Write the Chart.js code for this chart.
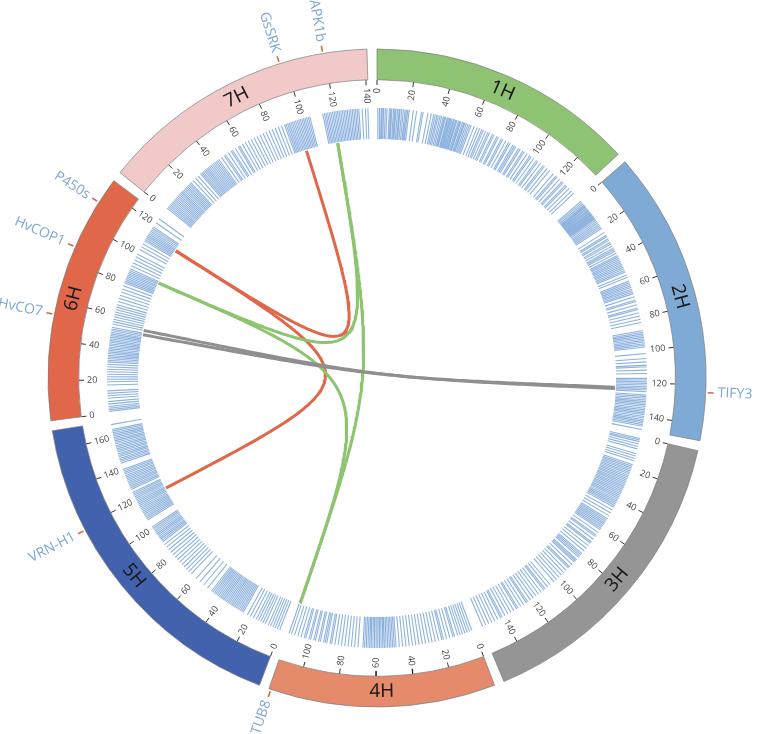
<!DOCTYPE html>
<html><head><meta charset="utf-8">
<script src="https://cdn.jsdelivr.net/npm/chart.js@4.4.1/dist/chart.umd.min.js"></script>
<style>
html,body{margin:0;padding:0;background:#fff;}
#wrap{position:relative;width:757px;height:734px;}
#wrap canvas{position:absolute;left:0;top:0;}
</style>
</head><body>
<div id="wrap"><canvas id="ring" width="757" height="734"></canvas><canvas id="tracks" width="757" height="734"></canvas></div>
<script>
// ---------------- data ----------------
const chromosomes = ['1H','2H','3H','4H','5H','6H','7H'];
const chromLengths = [134,148,155,114,170,126,141];           // cM
const chromColors = ['#8fc374','#7eaad5','#959595','#e58b6c','#4262ae','#e0674a','#f2c9c9'];
const tickStep = 20;

const geneNames = ['TIFY3','TUB8','VRN-H1','HvCO7','HvCOP1','P450s','GsSRK','APK1b'];
const geneChrom = ['2H','4H','5H','6H','6H','6H','7H','7H'];
const genePos   = [124,113,118,53,88,113,97,119];

const linkFromChrom = ['6H','6H','7H','7H','6H','7H','6H'];
const linkFromPos   = [54,51,119,119,88,97,113];
const linkToChrom   = ['2H','2H','4H','6H','4H','6H','5H'];
const linkToPos     = [124,123,113,88,113,113,118];
const linkColor     = ['#8f8f8f','#8f8f8f','#8dc46f','#8dc46f','#8dc46f','#e0674a','#e0674a'];

const markers1H = [0.5,1.5,2.5,3.2,4,5,6,7.5,8.3,9,10,10.8,11.5,12.5,13.4,14,15,16,17,17.8,18.6,19.5,22,24,27,28,31,33,34.5,35.5,36.5,37.4,38.5,39.5,40.5,41.3,42,43,43.7,44.5,45.2,46,46.8,47.5,48.3,49,50,50.8,51.5,52.5,53.3,54,55,56,57,58,60,62,63.5,65,66,67.5,69,70,72,73,75,76,78,79,81,83,84,86,87,88,90,91,93,94,96,98,99,101,103,104,106,108,109,111,113,116,118,119,121,123,124,126,127,129,131,133];
const markers2H = [0.5,1.5,2.5,3.5,4.3,5,5.8,6.5,7.3,8,8.8,9.5,10.3,11,11.8,12.5,13.3,14,15,16,17,18,19,20,21,24,26,27,28.5,29.5,31,32,33.5,35,36,37,38.5,40,41,42,43,44,45,46,47,48,49,50,51,53,54.5,57,58,59,60,61,62,63,64,65,67,69,70,72,74,75,77,79,81,83,88,89,90,91,92,93,94,95,96,97,98,102,105,107,109,110,112,114,117,118,119,120,121,122,123,124,125,127,128,129,130,131,132,133,134,135,136,137,138,139,140,141,142,143,144,145,146,148];
const markers3H = [0.5,1.5,2.5,4,5.5,7,10,11.5,13,14.5,17,18,19,20,21,22,23,24,25,26,27,28,29,30,31,32,33,34,35,36,37,38,39,40,41,42,43,44,45,47,49,51,53,54,55,56,57,58,59,60,61,63,65,66,68,70,71,73,75,77,79,80,81,82,84,85,86,88,90,91,93,95,97,99,101,103,106,108,110,111,113,115,117,119,121,123,124,126,128,130,131,133,135,137,139,141,142,144,146,148,150,152,154];
const markers4H = [1,2.5,4,5.5,7,8.5,10,12,13,15,17,19,20,22,24,26,28,30,32,34,36,38,40,42,44,46,48,49,50,51,52,53,54,55,56,57,58,59,60,61,62,63,64,65,66,67,68,71,73,75,77,79,81,83,85,87,88,90,91,92,94,95,97,98,100,101,103,104,106,108,110,112,113.5];
const markers5H = [0.5,2,3.5,5,6.5,8,10,11.5,13,14.5,16,18,20,22,25,26,27,28,29,30,31,32,33,34,35,36,37,38,39,40,41,42,43,44,45,46,47,48,51,54,57,60,64,66,68,70,72,74,76,78,80,82,84,86,88,90,91,92,93,94,95,96,97,98,99,100,101,106,107,108,109,110,111,112,113,114,115,116,117,118,119,120,121,122,123,124,125,127,128,129,130,131,132,133,134,135,136,137,138,139,140,144,145,146,147,148,149,150,151,152,153,154,155,156,157,158,159,160,161,162,163,164,165,168];
const markers6H = [1,2,3,4,5.5,7,9,10.5,12,13.5,17,19,20.5,22,23.5,25,26.5,28,29.5,31,32,33,34,35,36,37,38,39,40,41,42,43,44,45,46,47,48,49,50,51,52,54,55.5,57,58.5,60,61.5,63,64.5,66,68,70,72,74,76,78,80,81,82,83,84,85,86,87,88,89,91,93,95,97,99,102,104,106,108,109,110,111,112,113,114,115,116,117,118,121,124];
const markers7H = [1,2,3,4,5,6,7,8,9,10,11,12,13,14,15,16,17,18,19,20,21,22,24,26,28,30,31,32,33,34,35,36,37,38,39,40,41,42,43,44,46,48,49,51,53,54,56,58,59,61,63,65,67,69,71,73,75,77,79,81,83,85,87,89,90,91,92,93,94,95,96,97,98,99,100,101,102,103,104,105,113,114,115,116,117,118,119,120,121,122,123,124,125,126,127,128,129,130,131,132,133,134,135,137,139,140.5];
const markerLists = [markers1H,markers2H,markers3H,markers4H,markers5H,markers6H,markers7H];

// ---------------- geometry ----------------
const DEG = Math.PI/180;
const gapCM = 5;
const R_OUT=329, R_IN=298, TICK_IN=293, TICK_TXT=290, HEAT_IN=239, HEAT_OUT=270, LINK_R=238;
const GENE_T0=331, GENE_T1=337, GENE_TXT=341, NAME_R=313.5;
const CX=377, CY=378, W=757, H=734;

const totalUnits = chromLengths.reduce((a,b)=>a+b,0) + gapCM*chromLengths.length;
const degPerUnit = 360/totalUnits;
const chromStart = [];
{ let acc=0; chromLengths.forEach(L=>{ chromStart.push(acc*degPerUnit); acc += L+gapCM; }); }
function angleOf(chr,pos){ const i=chromosomes.indexOf(chr); return (chromStart[i]+pos*degPerUnit)*DEG; }
function pt(r,a){ return {x:r*Math.sin(a), y:r*Math.cos(a)}; }
const BREAK = {x:null,y:null};

// ---------------- ring (doughnut) ----------------
const ringData=[], ringBg=[], ringBorder=[], ringBW=[], ringLabels=[];
chromLengths.forEach((L,i)=>{
  ringData.push(L, gapCM); ringLabels.push(chromosomes[i], '');
  ringBg.push(chromColors[i], 'rgba(0,0,0,0)');
  ringBorder.push('#7d7d7d', 'rgba(0,0,0,0)');
  ringBW.push(0.7, 0);
});
new Chart(document.getElementById('ring'), {
  type:'doughnut',
  data:{labels:ringLabels, datasets:[{data:ringData, backgroundColor:ringBg, borderColor:ringBorder, borderWidth:ringBW}]},
  options:{
    responsive:false, animation:false, rotation:0, circumference:360,
    radius:R_OUT, cutout:R_IN,
    layout:{padding:{left:CX-R_OUT, top:CY-R_OUT, right:W-CX-R_OUT, bottom:H-CY-R_OUT}},
    plugins:{legend:{display:false}, tooltip:{enabled:false}}
  }
});

// ---------------- tracks (scatter) ----------------
const heatData=[];
markerLists.forEach((list,i)=>{
  list.forEach(p=>{ const a=angleOf(chromosomes[i],p); heatData.push(pt(HEAT_IN,a), pt(HEAT_OUT,a), BREAK); });
});
const tickData=[];
chromosomes.forEach((c,i)=>{
  for(let v=0; v<=chromLengths[i]; v+=tickStep){ const a=angleOf(c,v); tickData.push(pt(TICK_IN,a), pt(R_IN,a), BREAK); }
});
const geneTickData=[];
geneNames.forEach((g,k)=>{ const a=angleOf(geneChrom[k],genePos[k]); geneTickData.push(pt(GENE_T0,a), pt(GENE_T1,a), BREAK); });

function bezier(p0,p3,n){
  const out=[];
  for(let k=0;k<=n;k++){ const t=k/n; const a=(1-t)**3, d=t**3; out.push({x:a*p0.x+d*p3.x, y:a*p0.y+d*p3.y}); }
  return out;
}
const datasets=[
  {data:heatData, borderColor:'rgba(88,142,206,0.68)', borderWidth:1.1},
  {data:tickData, borderColor:'#333', borderWidth:1},
  {data:geneTickData, borderColor:'#e0674a', borderWidth:1.6},
];
linkFromChrom.forEach((c,k)=>{
  const p0=pt(LINK_R, angleOf(c,linkFromPos[k])), p3=pt(LINK_R, angleOf(linkToChrom[k],linkToPos[k]));
  datasets.push({data:bezier(p0,p3,120), borderColor:linkColor[k], borderWidth:3});
});
datasets.forEach(d=>{ d.showLine=true; d.pointRadius=0; d.spanGaps=false; d.fill=false; });

const textPlugin={
  id:'circosText',
  afterDatasetsDraw(chart){
    const ctx=chart.ctx, xs=chart.scales.x, ys=chart.scales.y;
    const P=(r,a)=>{ const p=pt(r,a); return [xs.getPixelForValue(p.x), ys.getPixelForValue(p.y)]; };
    const draw=(text,r,a,rot,align,font,color)=>{
      const [px,py]=P(r,a); ctx.save(); ctx.translate(px,py); ctx.rotate(rot);
      ctx.font=font; ctx.fillStyle=color; ctx.textAlign=align; ctx.textBaseline='middle';
      ctx.fillText(text,0,0); ctx.restore();
    };
    // tick labels
    chromosomes.forEach((c,i)=>{
      for(let v=0; v<=chromLengths[i]; v+=tickStep){
        const a=angleOf(c,v), deg=a/DEG;
        if(deg<180) draw(String(v),TICK_TXT,a,a-90*DEG,'right','9px "Open Sans"','#444');
        else draw(String(v),TICK_TXT,a,a+90*DEG,'left','9px "Open Sans"','#444');
      }
    });
    // chromosome names
    chromosomes.forEach((c,i)=>{
      const a=angleOf(c,chromLengths[i]/2), deg=a/DEG;
      const rot=(deg>90&&deg<270)? a-180*DEG : a;
      draw(c,NAME_R,a,rot,'center','19px "Noto Sans"','#1a1a1a');
    });
    // gene labels
    geneNames.forEach((g,k)=>{
      const a=angleOf(geneChrom[k],genePos[k]), deg=a/DEG;
      if(deg<180) draw(g,GENE_TXT,a,a-90*DEG,'left','14px "Open Sans"','#7ca7d4');
      else draw(g,GENE_TXT,a,a+90*DEG,'right','14px "Open Sans"','#7ca7d4');
    });
  }
};

new Chart(document.getElementById('tracks'), {
  type:'scatter',
  data:{datasets},
  options:{
    responsive:false, animation:false,
    layout:{padding:0},
    scales:{
      x:{type:'linear', min:-CX, max:W-CX, display:false},
      y:{type:'linear', min:-(H-CY), max:CY, display:false}
    },
    elements:{line:{tension:0, borderCapStyle:'butt'}, point:{radius:0}},
    plugins:{legend:{display:false}, tooltip:{enabled:false}}
  },
  plugins:[textPlugin]
});
</script>
</body></html>
